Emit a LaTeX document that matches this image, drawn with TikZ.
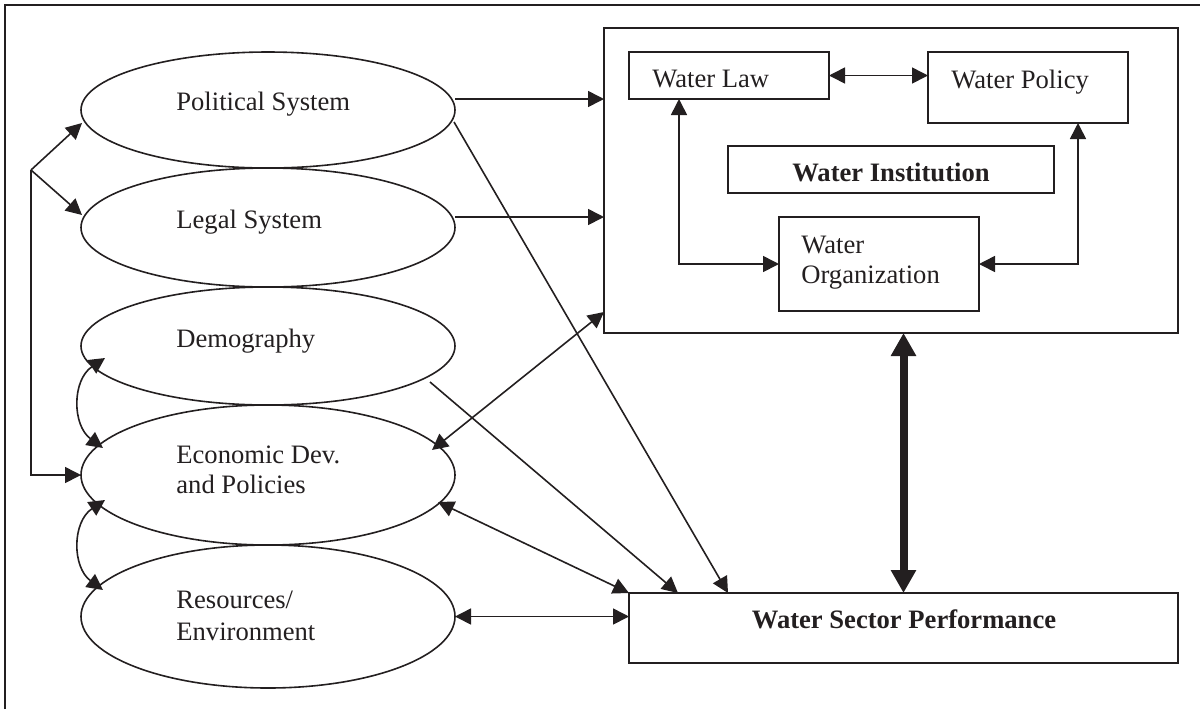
\documentclass[tikz,border=0pt]{standalone}
\usepackage{fontspec}
\setmainfont{Liberation Serif}
\usetikzlibrary{shapes.geometric,arrows.meta,calc}
\definecolor{ink}{HTML}{231F20}
\begin{document}
\begin{tikzpicture}[x=0.5pt,y=-0.5pt,
  font=\fontsize{13.3pt}{15pt}\selectfont,
  every node/.style={text=ink},
  ell/.style={ellipse, draw=ink, line width=0.8pt, inner sep=0pt, outer sep=0pt, minimum width=187pt},
  box/.style={rectangle, draw=ink, line width=0.9pt, inner sep=0pt, outer sep=0pt},
  lbl/.style={anchor=base west, inner sep=0pt},
  arr/.style={draw=ink, line width=0.8pt, -{Triangle[length=8pt,width=8pt]}},
  dbl/.style={draw=ink, line width=0.8pt, {Triangle[length=8pt,width=8pt]}-{Triangle[length=8pt,width=8pt]}},
  big/.style={draw=ink, line width=4pt, {Triangle[length=11.5pt,width=12pt]}-{Triangle[length=11.5pt,width=12pt]}}]
\useasboundingbox (0,0) rectangle (1200,709);
% outer frame (cropped)
\coordinate (fbl) at (5,709);
\coordinate (ftl) at (5,5);
\coordinate (ftr) at (1200,5);
\draw[ink, line width=1.1pt] (fbl) -- (ftl) -- (ftr);

% ellipses
\node[ell, minimum height=58pt]   (pol) at (268,110) {};
\node[ell, minimum height=59.5pt] (leg) at (268,227.5) {};
\node[ell, minimum height=59pt]   (dem) at (268,346) {};
\node[ell, minimum height=70pt]   (eco) at (268,475) {};
\node[ell, minimum height=71.5pt] (res) at (268,616.5) {};

\node[lbl] (tpol) at (176,110) {Political System};
\node[lbl] (tleg) at (176,228) {Legal System};
\node[lbl] (tdem) at (176,347) {Demography};
\node[lbl] (teco1) at (176,463) {Economic Dev.};
\node[lbl] (teco2) at (176,493) {and Policies};
\node[lbl] (tres1) at (176,608) {Resources/};
\node[lbl] (tres2) at (176,640) {Environment};

% boxes
\node[box, minimum width=287pt, minimum height=152.5pt] (inst) at (891,180.5) {};
\node[box, minimum width=100pt, minimum height=23.5pt] (law) at (729,75.5) {};
\node[box, minimum width=100pt, minimum height=35.5pt] (wpol) at (1028,87.5) {};
\node[box, minimum width=163pt, minimum height=23.5pt] (winst) at (891,169.5) {};
\node[box, minimum width=100pt, minimum height=47pt] (org) at (879,264) {};
\node[box, minimum width=274.5pt, minimum height=35pt] (wsp) at (903.5,628) {};

\node[lbl] (tlaw) at (652,87) {Water Law};
\node[lbl] (twpol) at (951,88) {Water Policy};
\node[anchor=base, inner sep=0pt] (twinst) at (891,181) {\bfseries Water Institution};
\node[lbl] (torg1) at (801,253) {Water};
\node[lbl] (torg2) at (801,283) {Organization};
\node[anchor=base, inner sep=0pt] (twsp) at (904,628) {\bfseries Water Sector Performance};

% inner connectors
\draw[dbl] (law.east) -- (law.east -| wpol.west);
\draw[dbl] ([shift={(-50,0)}]law.south) |- (org.west);
\draw[dbl] ([shift={(50,0)}]wpol.south) |- (org.east);
\draw[big] (wsp.north |- inst.south) -- (wsp.north);

% ellipse to boxes
\draw[arr] ([shift={(0,-11)}]pol.east) coordinate (p1) -- (p1 -| inst.west);
\draw[arr] ([shift={(0,-10.5)}]leg.east) coordinate (p2) -- (p2 -| inst.west);
\draw[arr] ([shift={(186,12)}]pol.center) -- ([shift={(-175.5,0)}]wsp.north);
\draw[arr] ([shift={(162,36)}]dem.center) -- ([shift={(-225.5,0)}]wsp.north);
\draw[dbl] ([shift={(164,-25)}]eco.center) -- ([shift={(0,-21)}]inst.south west);
\draw[dbl] ([shift={(170,27)}]eco.center) -- (wsp.north west);
\draw[dbl] (res.east) -- (res.east -| wsp.west);

% left bracket
\coordinate (br) at (31,170);
\draw[arr] (br) -- ([shift={(1,13)}]pol.west);
\draw[arr] (br) -- ([shift={(1,-12.5)}]leg.west);
\draw[arr] (br) |- (eco.west);

% curved links
\draw[dbl] ([shift={(-163,12)}]dem.center) .. controls +(-33,22) and +(-31,-23) .. ([shift={(-165,-27)}]eco.center);
\draw[dbl] ([shift={(-163,25)}]eco.center) .. controls +(-33,22) and +(-31,-23) .. ([shift={(-165,-26.5)}]res.center);
\end{tikzpicture}
\end{document}
